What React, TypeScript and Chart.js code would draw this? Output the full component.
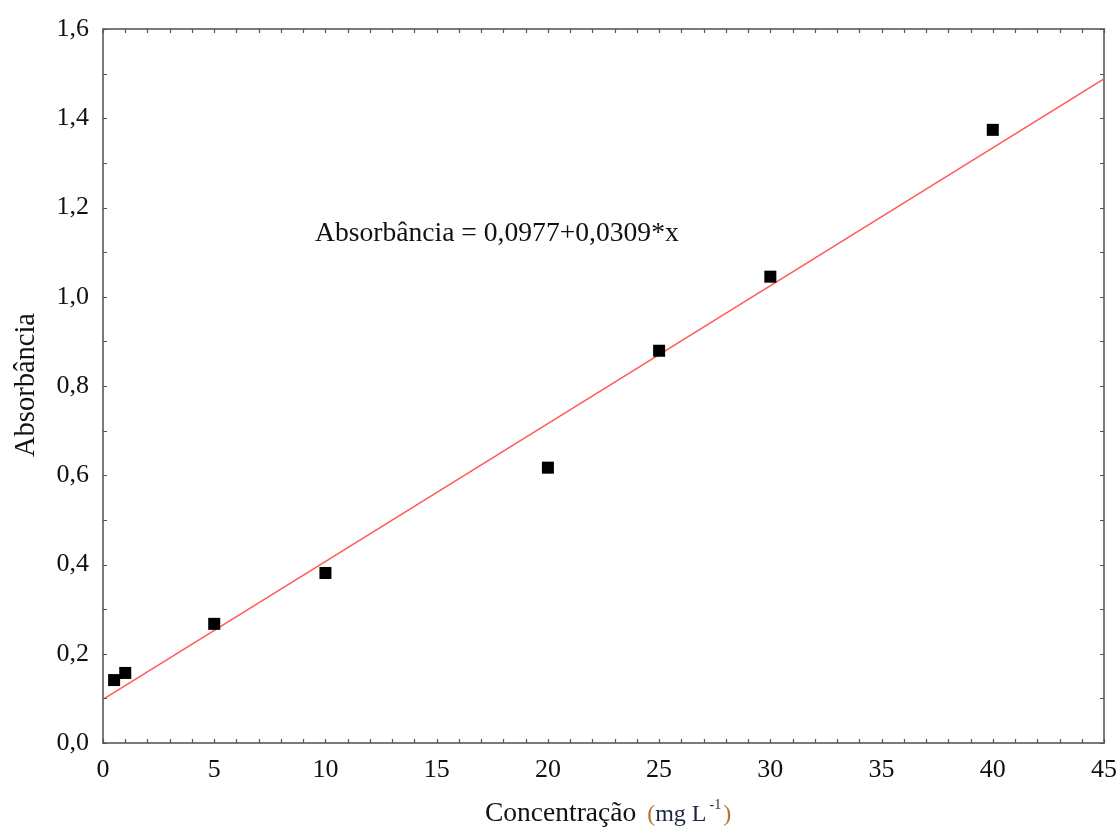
import React, { useEffect, useRef } from 'react';
import { Chart, registerables } from 'chart.js';

Chart.register(...registerables);

// Data
const concentrations = [0.5, 1, 5, 10, 20, 25, 30, 40];
const absorbances = [0.141, 0.157, 0.267, 0.381, 0.617, 0.879, 1.045, 1.374];
// Regression line: Absorbância = 0,0977 + 0,0309*x
const intercept = 0.0977;
const slope = 0.0309;
const fitX = [0, 45];
const xTickValues = [0, 5, 10, 15, 20, 25, 30, 35, 40, 45];
const yTickValues = [0, 0.2, 0.4, 0.6, 0.8, 1.0, 1.2, 1.4, 1.6];
const equationLabel = 'Absorbância = 0,0977+0,0309*x';
const xTitle = 'Concentração';
const xUnitMain = 'mg L';
const xUnitSup = '-1';
const yTitle = 'Absorbância';

const SERIF = "'Liberation Serif', 'Times New Roman', 'DejaVu Serif', serif";

const framePlugin = {
  id: 'frame',
  afterDatasetsDraw(chart: any) {
    const { ctx, chartArea } = chart;
    const { left, right, top, bottom } = chartArea;
    const xs = chart.scales.x;
    const ys = chart.scales.y;
    ctx.save();
    ctx.strokeStyle = '#7a7a7a';
    ctx.lineWidth = 2;
    ctx.strokeRect(left, top, right - left, bottom - top);
    ctx.lineWidth = 1.2;
    ctx.strokeStyle = '#555';
    const tl = 4;
    ctx.beginPath();
    for (let v = 0; v <= 45; v += 1) {
      const px = Math.round(xs.getPixelForValue(v)) + 0.5;
      ctx.moveTo(px, bottom);
      ctx.lineTo(px, bottom - tl);
      ctx.moveTo(px, top);
      ctx.lineTo(px, top + tl);
    }
    for (let i = 0; i <= 16; i++) {
      const py = Math.round(ys.getPixelForValue(i / 10)) + 0.5;
      ctx.moveTo(left, py);
      ctx.lineTo(left + tl, py);
      ctx.moveTo(right, py);
      ctx.lineTo(right - tl, py);
    }
    ctx.stroke();
    ctx.restore();
  },
  afterDraw(chart: any) {
    const { ctx } = chart;
    ctx.save();
    ctx.fillStyle = '#111';
    // equation annotation
    ctx.font = `27.6px ${SERIF}`;
    ctx.textBaseline = 'alphabetic';
    ctx.textAlign = 'left';
    ctx.fillText(equationLabel, 315, 241);

    // x title
    ctx.font = `27.5px ${SERIF}`;
    ctx.fillText(xTitle, 485, 821);
    const w1 = ctx.measureText(xTitle).width;
    let x = 485 + w1 + 11;
    ctx.font = `24px ${SERIF}`;
    ctx.fillStyle = '#b8732e';
    ctx.fillText('(', x, 821);
    x += ctx.measureText('(').width;
    ctx.fillStyle = '#1d2640';
    ctx.fillText(xUnitMain, x, 821);
    x += ctx.measureText(xUnitMain).width + 3;
    ctx.font = `14px ${SERIF}`;
    ctx.fillText(xUnitSup, x, 809);
    x += ctx.measureText(xUnitSup).width + 2;
    ctx.font = `24px ${SERIF}`;
    ctx.fillStyle = '#b8732e';
    ctx.fillText(')', x, 821);

    // y title
    ctx.fillStyle = '#111';
    ctx.font = `28.5px ${SERIF}`;
    ctx.translate(27, 385);
    ctx.rotate(-Math.PI / 2);
    ctx.textAlign = 'center';
    ctx.textBaseline = 'middle';
    ctx.fillText(yTitle, 0, 0);
    ctx.restore();
  },
};

export default function App() {
  const canvasRef = useRef<HTMLCanvasElement | null>(null);

  useEffect(() => {
    const canvas = canvasRef.current;
    if (!canvas) return;
    const chart = new Chart(canvas, {
      type: 'scatter',
      data: {
        datasets: [
          {
            label: 'Pontos',
            data: concentrations.map((c, i) => ({ x: c, y: absorbances[i] })),
            pointStyle: 'rect',
            pointRadius: 8.5,
            pointHoverRadius: 8.5,
            backgroundColor: '#000',
            borderColor: '#000',
            borderWidth: 0,
            showLine: false,
          },
          {
            label: 'Ajuste',
            type: 'line',
            data: fitX.map((x) => ({ x, y: intercept + slope * x })),
            borderColor: '#ff5a5a',
            borderWidth: 1.6,
            pointRadius: 0,
            fill: false,
          } as any,
        ],
      },
      options: {
        responsive: false,
        animation: false,
        events: [],
        layout: { padding: { left: 0, right: 14, top: 29, bottom: 0 } },
        plugins: {
          legend: { display: false },
          tooltip: { enabled: false },
          title: { display: false },
        },
        scales: {
          x: {
            type: 'linear',
            min: 0,
            max: 45,
            afterBuildTicks: (scale: any) => {
              scale.ticks = xTickValues.map((v) => ({ value: v }));
            },
            afterFit: (scale: any) => {
              scale.height = 85;
              scale.paddingLeft = 0;
              scale.paddingRight = 0;
            },
            grid: { display: false, drawTicks: false },
            border: { display: false },
            ticks: {
              padding: 12,
              color: '#111',
              font: { family: SERIF, size: 26 },
              maxRotation: 0,
              callback: (v: any) => String(v),
            },
          },
          y: {
            type: 'linear',
            min: 0,
            max: 1.6,
            afterBuildTicks: (scale: any) => {
              scale.ticks = yTickValues.map((v) => ({ value: v }));
            },
            afterFit: (scale: any) => {
              scale.width = 103;
              scale.paddingTop = 0;
              scale.paddingBottom = 0;
            },
            grid: { display: false, drawTicks: false },
            border: { display: false },
            ticks: {
              padding: 14,
              color: '#111',
              font: { family: SERIF, size: 26 },
              callback: (v: any) => Number(v).toFixed(1).replace('.', ','),
            },
          },
        },
      },
      plugins: [framePlugin],
    });
    return () => chart.destroy();
  }, []);

  return (
    <div style={{ position: 'absolute', left: 0, top: 0, width: 1118, height: 828, background: '#fff' }}>
      <canvas ref={canvasRef} width={1118} height={828} />
    </div>
  );
}
